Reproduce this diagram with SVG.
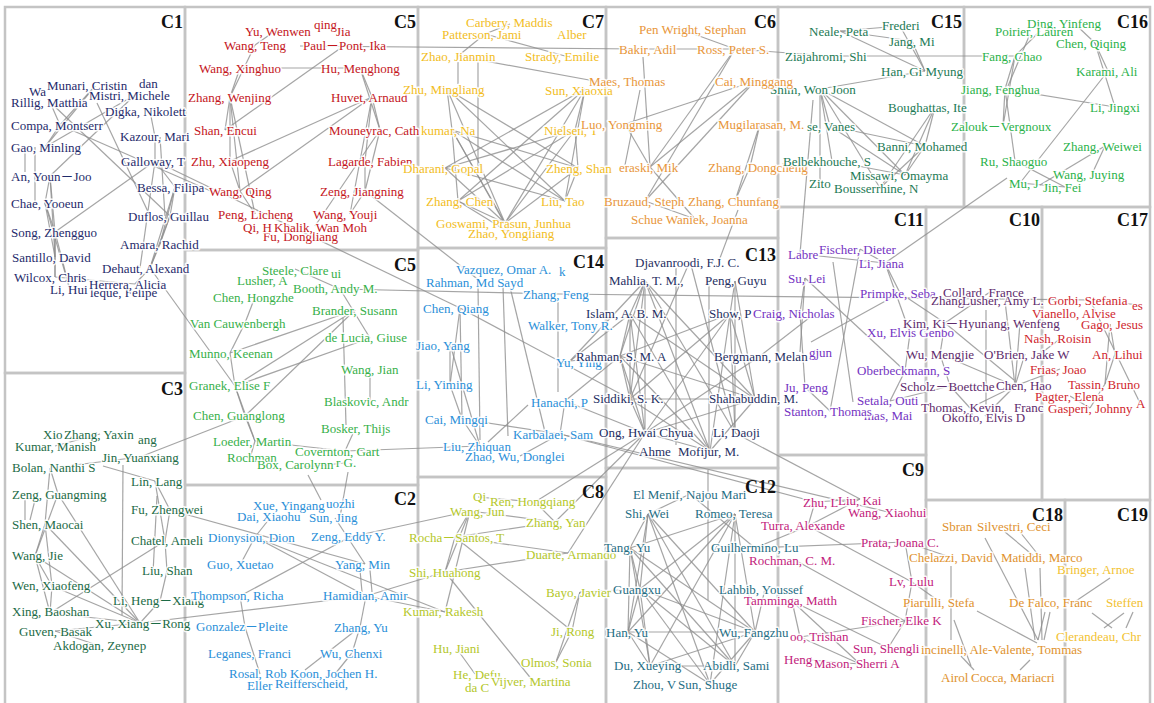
<svg xmlns="http://www.w3.org/2000/svg" width="1154" height="703" viewBox="0 0 1154 703">
<style>
text{font-family:"Liberation Serif","Times New Roman","Noto Sans CJK KR",serif;font-size:13px;paint-order:stroke;stroke:#fff;stroke-width:3px;stroke-linejoin:round;stroke-opacity:.9}
.lbl{font-weight:bold;font-size:18px;fill:#111;stroke:none;text-anchor:end}
.box rect{fill:none;stroke:#c4c4c4;stroke-width:2.5}
.e path{fill:none;stroke:#8f8f8f;stroke-width:1.2;stroke-opacity:.8}
.k1 text{fill:#1f2b6b}.k5 text{fill:#c4161c}.k7 text{fill:#f2bd1d}.k6 text{fill:#e8963a}
.k15 text{fill:#1d7a55}.k16 text{fill:#2bb24a}.k11 text{fill:#7433c2}.k10 text{fill:#5e2b6c}
.k17 text{fill:#cf1f2e}.k5g text{fill:#37b04a}.k14 text{fill:#2a8fd8}.k13 text{fill:#1f2f62}
.k3 text{fill:#1c6b46}.k2 text{fill:#2a8fd8}.k8 text{fill:#b4c72a}.k12 text{fill:#1f6e84}
.k9 text{fill:#c21c7c}.k18 text{fill:#e0922e}.k19 text{fill:#f2c232}
</style>
<rect width="1154" height="703" fill="#fff"/>
<g id="boxes" class="box">
<rect x="5" y="7" width="180" height="366"/>
<rect x="185" y="7" width="233" height="243"/>
<rect x="418" y="7" width="188" height="241"/>
<rect x="606" y="7" width="172" height="231"/>
<rect x="778" y="7" width="186" height="200"/>
<rect x="964" y="7" width="186" height="200"/>
<rect x="185" y="250" width="233" height="235"/>
<rect x="418" y="248" width="188" height="229"/>
<rect x="606" y="238" width="172" height="230"/>
<rect x="778" y="207" width="148" height="248"/>
<rect x="926" y="207" width="116" height="293"/>
<rect x="1042" y="207" width="108" height="293"/>
<rect x="5" y="373" width="180" height="335"/>
<rect x="185" y="485" width="233" height="223"/>
<rect x="418" y="477" width="188" height="231"/>
<rect x="606" y="468" width="172" height="240"/>
<rect x="778" y="455" width="148" height="253"/>
<rect x="926" y="500" width="139" height="208"/>
<rect x="1065" y="500" width="85" height="208"/>
</g>
<g id="connectors" class="e">
<path d="M25 150L25 172"/><path d="M50 176L45 203"/><path d="M50 176L55 232"/><path d="M45 203L55 232"/><path d="M35 147L35 203"/>
<path d="M50 176L55 257"/><path d="M45 203L55 257"/><path d="M55 232L55 257"/><path d="M55 232L55 277"/><path d="M60 125L45 147"/>
<path d="M50 102L60 125"/><path d="M50 102L170 216"/><path d="M95 86L60 125"/><path d="M95 86L45 147"/><path d="M135 95L45 147"/>
<path d="M135 95L50 176"/><path d="M150 111L155 137"/><path d="M155 137L155 161"/><path d="M155 161L175 187"/><path d="M155 161L55 232"/>
<path d="M175 187L170 216"/><path d="M175 187L160 244"/><path d="M170 216L160 244"/><path d="M170 216L150 268"/><path d="M160 244L150 268"/>
<path d="M150 268L135 284"/><path d="M175 187L150 268"/><path d="M155 161L140 268"/><path d="M45 203L70 290"/><path d="M55 232L70 290"/>
<path d="M55 257L55 277"/><path d="M55 277L135 284"/><path d="M60 125L213 192"/><path d="M155 161L460 308"/><path d="M150 268L235 386"/>
<path d="M97 103L150 216"/><path d="M160 137L165 216"/>
<path d="M240 68L230 97"/><path d="M230 97L225 130"/><path d="M230 97L230 161"/><path d="M255 45L275 31"/><path d="M255 45L230 97"/>
<path d="M240 68L360 68"/><path d="M360 68L372 97"/><path d="M360 68L380 130"/><path d="M372 97L365 161"/><path d="M372 97L380 130"/>
<path d="M380 130L365 191"/><path d="M365 161L365 191"/><path d="M365 191L350 214"/><path d="M255 214L240 191"/><path d="M240 191L230 161"/>
<path d="M230 161L372 97"/><path d="M345 45L225 130"/><path d="M230 97L255 214"/><path d="M230 97L240 191"/><path d="M372 97L240 191"/>
<path d="M350 214L372 97"/><path d="M315 226L380 130"/><path d="M365 191L480 281"/><path d="M300 46L640 49"/><path d="M640 49L735 49"/>
<path d="M735 49L830 56"/><path d="M830 56L1015 56"/>
<path d="M485 34L458 56"/><path d="M485 34L565 56"/><path d="M510 24L485 34"/><path d="M458 62L458 84"/><path d="M478 62L478 168"/>
<path d="M458 56L600 82"/><path d="M447 89L565 201"/><path d="M447 89L505 223"/><path d="M447 89L578 168"/><path d="M452 130L565 201"/>
<path d="M452 130L505 223"/><path d="M452 130L458 201"/><path d="M452 130L578 168"/><path d="M452 130L510 233"/><path d="M445 168L565 201"/>
<path d="M445 168L505 223"/><path d="M458 201L505 223"/><path d="M585 89L445 168"/><path d="M585 89L505 223"/><path d="M585 89L458 201"/>
<path d="M575 130L505 223"/><path d="M575 130L458 201"/><path d="M575 130L445 168"/><path d="M585 89L575 130"/><path d="M575 130L578 168"/>
<path d="M578 168L565 201"/><path d="M585 89L565 201"/><path d="M452 130L447 89"/><path d="M578 168L505 223"/><path d="M458 201L510 233"/>
<path d="M680 29L735 49"/><path d="M643 57L650 167"/><path d="M735 49L645 201"/><path d="M735 49L650 167"/><path d="M755 81L625 124"/>
<path d="M755 81L645 201"/><path d="M755 81L650 167"/><path d="M760 124L735 201"/><path d="M760 124L750 167"/><path d="M750 167L735 201"/>
<path d="M650 167L695 219"/><path d="M645 201L695 219"/><path d="M625 124L650 167"/><path d="M738 210L720 258"/><path d="M640 90L625 165"/>
<path d="M840 31L900 26"/><path d="M840 31L912 41"/><path d="M840 31L925 71"/><path d="M900 26L925 71"/><path d="M912 41L925 71"/>
<path d="M820 89L925 71"/><path d="M820 89L832 161"/><path d="M820 89L820 183"/><path d="M820 89L925 146"/><path d="M820 89L905 175"/>
<path d="M820 89L880 188"/><path d="M820 89L830 126"/><path d="M935 107L905 175"/><path d="M935 107L925 146"/><path d="M935 107L880 188"/>
<path d="M830 126L905 175"/><path d="M830 126L925 146"/><path d="M832 161L905 175"/><path d="M925 146L905 175"/><path d="M925 146L880 188"/>
<path d="M813 100L800 254"/>
<path d="M1040 31L1015 56"/><path d="M1030 34L1008 86"/><path d="M1015 56L1005 89"/><path d="M1015 56L1003 126"/><path d="M1005 89L1003 126"/>
<path d="M1005 89L1115 107"/><path d="M1005 89L1015 161"/><path d="M1095 43L1108 71"/><path d="M1095 43L1115 107"/><path d="M1075 24L1095 43"/>
<path d="M1108 71L1020 183"/><path d="M1105 146L1092 174"/><path d="M1105 146L1040 185"/><path d="M1015 161L1065 187"/><path d="M1020 183L1065 187"/>
<path d="M1007 178L885 263"/>
<path d="M860 249L885 263"/><path d="M800 254L885 263"/><path d="M805 278L800 313"/><path d="M805 278L800 352"/><path d="M800 313L805 387"/>
<path d="M805 387L830 411"/><path d="M833 262L853 402"/><path d="M860 249L830 411"/><path d="M885 263L910 333"/><path d="M900 293L885 263"/>
<path d="M900 293L945 323"/><path d="M811 342L900 293"/><path d="M905 371L890 401"/><path d="M950 386L890 401"/><path d="M910 333L905 371"/>
<path d="M760 356L809 318"/><path d="M805 278L905 371"/>
<path d="M945 323L1014 380"/><path d="M1025 354L1015 386"/><path d="M1020 323L1015 386"/><path d="M990 292L945 323"/><path d="M1005 301L1015 386"/>
<path d="M986 310L986 405"/><path d="M940 354L950 386"/><path d="M950 386L970 408"/><path d="M970 408L1015 386"/><path d="M985 416L1015 386"/>
<path d="M945 323L940 354"/><path d="M1060 339L1040 354"/><path d="M1060 369L1015 386"/><path d="M940 354L1015 386"/><path d="M560 294L1090 300"/>
<path d="M1090 300L1140 305"/><path d="M1110 324L1115 354"/><path d="M1115 354L1105 384"/><path d="M1110 324L1105 384"/><path d="M1090 300L1140 403"/>
<path d="M1070 396L1090 408"/><path d="M1105 384L1090 408"/>
<path d="M340 289L295 269"/><path d="M340 289L370 338"/><path d="M355 310L245 416"/><path d="M355 310L235 386"/><path d="M343 318L346 425"/>
<path d="M255 297L245 323"/><path d="M245 323L230 353"/><path d="M230 353L235 386"/><path d="M235 386L245 416"/><path d="M245 416L255 441"/>
<path d="M235 386L255 441"/><path d="M370 369L370 401"/><path d="M355 429L345 451"/><path d="M230 353L355 310"/><path d="M235 386L370 338"/>
<path d="M255 441L250 458"/><path d="M295 468L345 463"/><path d="M345 451L480 446"/><path d="M340 289L560 294"/><path d="M245 416L140 457"/>
<path d="M308 475L321 500"/><path d="M348 472L340 517"/><path d="M255 441L345 451"/>
<path d="M478 285L480 440"/><path d="M503 287L508 436"/><path d="M510 287L545 432"/><path d="M460 308L450 385"/><path d="M460 308L462 419"/>
<path d="M450 344L450 385"/><path d="M450 385L462 419"/><path d="M450 344L480 446"/><path d="M462 419L480 446"/><path d="M462 419L560 434"/>
<path d="M558 302L558 392"/><path d="M565 401L560 434"/><path d="M528 405L488 442"/><path d="M560 434L520 456"/><path d="M460 308L630 399"/>
<path d="M570 361L645 281"/><path d="M570 361L630 314"/><path d="M570 361L620 356"/><path d="M565 401L620 356"/><path d="M565 401L645 433"/>
<path d="M645 281L630 314"/><path d="M645 281L620 356"/><path d="M645 281L630 399"/><path d="M645 281L645 433"/><path d="M645 281L755 399"/>
<path d="M645 281L710 451"/><path d="M645 281L735 433"/><path d="M630 314L620 356"/><path d="M630 314L630 399"/><path d="M630 314L645 433"/>
<path d="M630 314L755 399"/><path d="M630 314L710 451"/><path d="M620 356L630 399"/><path d="M620 356L645 433"/><path d="M620 356L755 399"/>
<path d="M620 356L710 451"/><path d="M620 356L730 314"/><path d="M630 399L645 433"/><path d="M630 399L755 399"/><path d="M630 399L710 451"/>
<path d="M630 399L730 314"/><path d="M645 433L710 451"/><path d="M645 433L755 399"/><path d="M645 433L730 314"/><path d="M755 399L710 451"/>
<path d="M755 399L730 314"/><path d="M730 314L710 451"/><path d="M735 281L730 314"/><path d="M735 281L755 399"/><path d="M709 278L709 450"/>
<path d="M735 281L735 433"/><path d="M676 268L676 445"/><path d="M690 261L735 433"/><path d="M690 261L630 399"/><path d="M730 314L735 433"/>
<path d="M760 356L645 433"/><path d="M735 433L860 499"/><path d="M560 434L815 502"/><path d="M560 434L888 512"/>
<path d="M568 553L645 433"/><path d="M555 522L645 433"/><path d="M535 502L645 433"/>
<path d="M648 514L630 548"/><path d="M648 514L640 589"/><path d="M648 514L628 632"/><path d="M648 514L755 632"/><path d="M648 514L735 666"/>
<path d="M648 514L710 684"/><path d="M735 514L630 548"/><path d="M735 514L640 589"/><path d="M735 514L628 632"/><path d="M735 514L650 666"/>
<path d="M735 514L735 666"/><path d="M735 514L755 632"/><path d="M735 514L710 684"/><path d="M630 548L640 589"/><path d="M630 548L628 632"/>
<path d="M630 548L650 666"/><path d="M630 548L755 632"/><path d="M630 548L735 666"/><path d="M640 589L628 632"/><path d="M640 589L650 666"/>
<path d="M640 589L755 632"/><path d="M640 589L710 684"/><path d="M640 589L735 666"/><path d="M628 632L650 666"/><path d="M628 632L755 632"/>
<path d="M628 632L710 684"/><path d="M650 666L755 632"/><path d="M650 666L735 666"/><path d="M755 632L735 666"/><path d="M755 632L710 684"/>
<path d="M755 632L765 589"/><path d="M690 494L755 548"/><path d="M690 494L648 514"/><path d="M708 470L708 600"/>
<path d="M470 511L555 522"/><path d="M470 511L455 537"/><path d="M470 511L445 572"/><path d="M470 511L445 612"/><path d="M478 497L535 502"/>
<path d="M535 502L555 522"/><path d="M455 537L555 522"/><path d="M455 537L568 553"/><path d="M455 537L572 631"/><path d="M455 537L445 572"/>
<path d="M445 572L568 553"/><path d="M445 572L533 681"/><path d="M457 649L475 674"/><path d="M572 631L556 662"/><path d="M580 592L572 631"/>
<path d="M580 592L556 662"/><path d="M445 572L366 596"/><path d="M470 511L350 537"/><path d="M255 537L445 612"/><path d="M366 596L445 612"/>
<path d="M580 592L640 589"/>
<path d="M335 518L365 564"/><path d="M360 570L362 592"/><path d="M370 570L372 592"/><path d="M366 596L360 627"/><path d="M360 627L352 653"/>
<path d="M360 627L305 670"/><path d="M352 653L335 674"/><path d="M270 518L255 537"/><path d="M255 537L240 565"/><path d="M255 537L366 596"/>
<path d="M350 537L240 596"/><path d="M240 596L245 627"/><path d="M245 627L260 674"/><path d="M140 623L366 596"/><path d="M170 510L365 564"/>
<path d="M25 500L25 520"/><path d="M58 494L35 556"/><path d="M58 494L140 623"/><path d="M45 524L35 556"/><path d="M45 524L52 586"/>
<path d="M45 524L140 623"/><path d="M35 556L52 586"/><path d="M35 556L50 613"/><path d="M35 556L140 623"/><path d="M52 586L50 613"/>
<path d="M52 586L140 623"/><path d="M50 613L140 623"/><path d="M55 631L140 623"/><path d="M50 468L58 494"/><path d="M50 468L45 524"/>
<path d="M103 466L155 481"/><path d="M155 481L170 510"/><path d="M155 481L165 541"/><path d="M170 510L165 541"/><path d="M157 496L153 573"/>
<path d="M165 541L167 571"/><path d="M167 571L160 601"/><path d="M160 601L140 623"/><path d="M165 541L50 613"/><path d="M55 446L100 434"/>
<path d="M140 457L50 468"/><path d="M123 465L122 615"/><path d="M100 646L55 631"/><path d="M35 500L30 520"/>
<path d="M815 502L860 499"/><path d="M815 502L808 526"/><path d="M860 499L808 526"/><path d="M755 548L905 542"/><path d="M755 548L808 526"/>
<path d="M905 542L912 582"/><path d="M905 542L950 557"/><path d="M912 582L940 602"/><path d="M793 559L905 621"/><path d="M912 582L905 621"/>
<path d="M792 601L800 637"/><path d="M792 601L888 648"/><path d="M800 637L860 664"/><path d="M905 621L888 648"/><path d="M905 621L800 637"/>
<path d="M792 601L860 664"/><path d="M797 659L860 664"/><path d="M808 526L912 582"/>
<path d="M1005 532L1035 557"/><path d="M1020 532L1040 557"/><path d="M985 538L1038 640"/><path d="M1025 568L1035 640"/><path d="M1040 568L1042 640"/>
<path d="M1045 612L1038 640"/><path d="M1050 612L1044 640"/><path d="M951 566L951 640"/><path d="M977 611L1037 643"/><path d="M954 620L971 666"/>
<path d="M961 656L974 670"/><path d="M1030 660L1020 670"/><path d="M1110 578L1070 605"/><path d="M1092 613L1112 628"/><path d="M1124 613L1104 628"/>
<path d="M1133 612L1126 628"/>
</g>
<g id="C1" class="k1">
<g id="n-wa"><text x="29" y="96">Wa</text></g>
<g id="n-dan"><text x="139" y="88">dan</text></g>
<g id="n-munari"><text x="47" y="90">Munari, Cristin</text></g>
<g id="n-mistri"><text x="89" y="100">Mistri, Michele</text></g>
<g id="n-rillig"><text x="11" y="107">Rillig, Matthia</text></g>
<g id="n-digka"><text x="105" y="116">Digka, Nikolett</text></g>
<g id="n-compa"><text x="11" y="130">Compa, Montserr</text></g>
<g id="n-kazour"><text x="120" y="141">Kazour, Mari</text></g>
<g id="n-gao"><text x="11" y="152">Gao, Minling</text></g>
<g id="n-galloway"><text x="121" y="166">Galloway, T</text></g>
<g id="n-an"><text x="11" y="181">An, Youn－Joo</text></g>
<g id="n-bessa"><text x="137" y="192">Bessa, Filipa</text></g>
<g id="n-chae"><text x="11" y="208">Chae, Yooeun</text></g>
<g id="n-duflos"><text x="128" y="221">Duflos, Guillau</text></g>
<g id="n-song"><text x="11" y="237">Song, Zhengguo</text></g>
<g id="n-amara"><text x="120" y="249">Amara, Rachid</text></g>
<g id="n-santillo"><text x="12" y="262">Santillo, David</text></g>
<g id="n-dehaut"><text x="102" y="273">Dehaut, Alexand</text></g>
<g id="n-lihui"><text x="50" y="294">Li, Hui</text></g>
<g id="n-leque"><text x="90" y="297">leque, Felipe</text></g>
<g id="n-wilcox"><text x="14" y="282">Wilcox, Chris</text></g>
<g id="n-herrera"><text x="89" y="289">Herrera, Alicia</text></g>
</g>
<g id="C5a" class="k5">
<g id="n-xinqing"><text x="314" y="29">qing</text></g>
<g id="n-yuwen"><text x="245" y="36">Yu, Wenwen</text></g>
<g id="n-jia"><text x="336" y="36">Jia</text></g>
<g id="n-wangteng"><text x="224" y="50">Wang, Teng</text></g>
<g id="n-paulpont"><text x="303" y="50">Paul－Pont, Ika</text></g>
<g id="n-xinghuo"><text x="199" y="73">Wang, Xinghuo</text></g>
<g id="n-hum"><text x="321" y="73">Hu, Menghong</text></g>
<g id="n-wenjing"><text x="188" y="102">Zhang, Wenjing</text></g>
<g id="n-huvet"><text x="331" y="102">Huvet, Arnaud</text></g>
<g id="n-shan"><text x="194" y="135">Shan, Encui</text></g>
<g id="n-mouneyrac"><text x="329" y="135">Mouneyrac, Cath</text></g>
<g id="n-zhuxp"><text x="191" y="166">Zhu, Xiaopeng</text></g>
<g id="n-lagarde"><text x="328" y="166">Lagarde, Fabien</text></g>
<g id="n-wangqing"><text x="209" y="196">Wang, Qing</text></g>
<g id="n-zengj"><text x="320" y="196">Zeng, Jiangning</text></g>
<g id="n-peng"><text x="218" y="219">Peng, Licheng</text></g>
<g id="n-youji"><text x="313" y="219">Wang, Youji</text></g>
<g id="n-fu"><text x="263" y="241">Fu, Dongliang</text></g>
<g id="n-qi"><text x="243" y="232">Qi, H</text></g>
<g id="n-khalik"><text x="274" y="232">Khalik, Wan Moh</text></g>
</g>
<g id="C7" class="k7">
<g id="n-carbery"><text x="466" y="27">Carbery, Maddis</text></g>
<g id="n-patterson"><text x="442" y="39">Patterson, Jami</text></g>
<g id="n-alber"><text x="557" y="39">Alber</text></g>
<g id="n-zhaojm"><text x="421" y="61">Zhao, Jianmin</text></g>
<g id="n-strady"><text x="525" y="61">Strady, Emilie</text></g>
<g id="n-zhuml"><text x="403" y="94">Zhu, Mingliang</text></g>
<g id="n-sunxx"><text x="545" y="95">Sun, Xiaoxia</text></g>
<g id="n-kumar"><text x="421" y="135">kumar, Na</text></g>
<g id="n-nielsen"><text x="544" y="135">Nielsen, T</text></g>
<g id="n-dharani"><text x="403" y="173">Dharani, Gopal</text></g>
<g id="n-zhengs"><text x="546" y="173">Zheng, Shan</text></g>
<g id="n-zhangchen"><text x="426" y="206">Zhang, Chen</text></g>
<g id="n-liutao"><text x="541" y="206">Liu, Tao</text></g>
<g id="n-zhaoyl"><text x="468" y="238">Zhao, Yongliang</text></g>
<g id="n-goswami"><text x="436" y="228">Goswami, Prasun, Junhua</text></g>
</g>
<g id="C6" class="k6">
<g id="n-wright"><text x="639" y="34">Pen Wright, Stephan</text></g>
<g id="n-bakir"><text x="619" y="54">Bakir, Adil</text></g>
<g id="n-ross"><text x="697" y="54">Ross, Peter S.</text></g>
<g id="n-maes"><text x="589" y="86">Maes, Thomas</text></g>
<g id="n-luo"><text x="581" y="129">Luo, Yongming</text></g>
<g id="n-eraski"><text x="619" y="172">eraski, Mik</text></g>
<g id="n-zhangdc"><text x="708" y="172">Zhang, Dongcheng</text></g>
<g id="n-bruzaud"><text x="604" y="206">Bruzaud, Steph</text></g>
<g id="n-zhangcf"><text x="688" y="206">Zhang, Chunfang</text></g>
<g id="n-schue"><text x="631" y="224">Schue Waniek, Joanna</text></g>
</g>
<g id="C15" class="k15">
<g id="n-shim"><text x="770" y="94">Shim, Won Joon</text></g>
<g id="n-neale"><text x="809" y="36">Neale, Peta</text></g>
<g id="n-frederi"><text x="882" y="30">Frederi</text></g>
<g id="n-jang"><text x="889" y="46">Jang, Mi</text></g>
<g id="n-ziaj"><text x="785" y="61">Ziajahromi, Shi</text></g>
<g id="n-han"><text x="881" y="76">Han, Gi Myung</text></g>
<g id="n-bough"><text x="888" y="112">Boughattas, Ite</text></g>
<g id="n-vanes"><text x="807" y="131">se, Vanes</text></g>
<g id="n-banni"><text x="877" y="151">Banni, Mohamed</text></g>
<g id="n-belbek"><text x="783" y="166">Belbekhouche, S</text></g>
<g id="n-missawi"><text x="850" y="180">Missawi, Omayma</text></g>
<g id="n-zito"><text x="809" y="188">Zito</text></g>
<g id="n-bouss"><text x="834" y="193">Bousserrhine, N</text></g>
</g>
<g id="C6b" class="k6">
<g id="n-cai"><text x="715" y="86">Cai, Minggang</text></g>
<g id="n-mugi"><text x="718" y="129">Mugilarasan, M.</text></g>
</g>
<g id="C16" class="k16">
<g id="n-ding"><text x="1027" y="28">Ding, Yinfeng</text></g>
<g id="n-poirier"><text x="995" y="36">Poirier, Lauren</text></g>
<g id="n-chenqq"><text x="1056" y="48">Chen, Qiqing</text></g>
<g id="n-fang"><text x="982" y="61">Fang, Chao</text></g>
<g id="n-karami"><text x="1076" y="76">Karami, Ali</text></g>
<g id="n-jiang"><text x="961" y="94">Jiang, Fenghua</text></g>
<g id="n-lijx"><text x="1090" y="112">Li, Jingxi</text></g>
<g id="n-zalouk"><text x="951" y="131">Zalouk－Vergnoux</text></g>
<g id="n-zhangww"><text x="1063" y="151">Zhang, Weiwei</text></g>
<g id="n-ru"><text x="980" y="166">Ru, Shaoguo</text></g>
<g id="n-wangjy"><text x="1053" y="179">Wang, Juying</text></g>
<g id="n-mu"><text x="1009" y="188">Mu, J</text></g>
<g id="n-jin"><text x="1043" y="192">Jin, Fei</text></g>
</g>
<g id="C11" class="k11">
<g id="n-labre"><text x="788" y="259">Labre</text></g>
<g id="n-fischerd"><text x="819" y="254">Fischer, Dieter</text></g>
<g id="n-lijiana"><text x="859" y="268">Li, Jiana</text></g>
<g id="n-sulei"><text x="788" y="283">Su, Lei</text></g>
<g id="n-primpke"><text x="860" y="298">Primpke, Seba</text></g>
<g id="n-xuelvis"><text x="867" y="337">Xu, Elvis Genbo</text></g>
<g id="n-gjun"><text x="809" y="357">gjun</text></g>
<g id="n-oberb"><text x="857" y="375">Oberbeckmann, S</text></g>
<g id="n-jupeng"><text x="784" y="392">Ju, Peng</text></g>
<g id="n-setala"><text x="857" y="405">Setala, Outi</text></g>
<g id="n-mai"><text x="864" y="420">mas, Mai</text></g>
<g id="n-stanton"><text x="784" y="416">Stanton, Thomas</text></g>
</g>
<g id="C10" class="k10">
<g id="n-collard"><text x="943" y="297">Collard, France</text></g>
<g id="n-zhang10"><text x="931" y="305">Zhang</text></g>
<g id="n-lusher"><text x="962" y="305">Lusher, Amy L.</text></g>
<g id="n-yangwf"><text x="988" y="328">ang, Wenfeng</text></g>
<g id="n-kim"><text x="903" y="328">Kim, Ki－Hyun</text></g>
<g id="n-wumj"><text x="906" y="359">Wu, Mengjie</text></g>
<g id="n-obrien"><text x="984" y="359">O'Brien, Jake W</text></g>
<g id="n-scholz"><text x="900" y="391">Scholz－Boettche</text></g>
<g id="n-chenhao"><text x="996" y="390">Chen, Hao</text></g>
<g id="n-okoffo"><text x="942" y="422">Okoffo, Elvis D</text></g>
<g id="n-thomask"><text x="921" y="412">Thomas, Kevin,</text></g>
<g id="n-franc"><text x="1014" y="412">Franc</text></g>
</g>
<g id="C17" class="k17">
<g id="n-vianello"><text x="1032" y="318">Vianello, Alvise</text></g>
<g id="n-gorbi"><text x="1048" y="305">Gorbi, Stefania</text></g>
<g id="n-es"><text x="1132" y="310">es</text></g>
<g id="n-gago"><text x="1081" y="329">Gago, Jesus</text></g>
<g id="n-nash"><text x="1024" y="343">Nash, Roisin</text></g>
<g id="n-anlh"><text x="1092" y="359">An, Lihui</text></g>
<g id="n-frias"><text x="1030" y="374">Frias, Joao</text></g>
<g id="n-tassin"><text x="1068" y="389">Tassin, Bruno</text></g>
<g id="n-pagter"><text x="1035" y="401">Pagter, Elena</text></g>
<g id="n-a"><text x="1136" y="408">A</text></g>
<g id="n-gasperi"><text x="1048" y="413">Gasperi, Johnny</text></g>
</g>
<g id="C5b" class="k5g">
<g id="n-steele"><text x="262" y="275">Steele, Clare</text></g>
<g id="n-ui"><text x="331" y="278">ui</text></g>
<g id="n-lushera"><text x="237" y="285">Lusher, A</text></g>
<g id="n-booth"><text x="293" y="293">Booth, Andy M.</text></g>
<g id="n-chenhz"><text x="213" y="302">Chen, Hongzhe</text></g>
<g id="n-brander"><text x="312" y="315">Brander, Susann</text></g>
<g id="n-vanc"><text x="190" y="328">Van Cauwenbergh</text></g>
<g id="n-delucia"><text x="325" y="342">de Lucia, Giuse</text></g>
<g id="n-munno"><text x="189" y="358">Munno, Keenan</text></g>
<g id="n-wangjian"><text x="341" y="374">Wang, Jian</text></g>
<g id="n-granek"><text x="189" y="390">Granek, Elise F</text></g>
<g id="n-blask"><text x="324" y="406">Blaskovic, Andr</text></g>
<g id="n-chengl"><text x="193" y="420">Chen, Guanglong</text></g>
<g id="n-bosker"><text x="321" y="433">Bosker, Thijs</text></g>
<g id="n-loeder"><text x="213" y="446">Loeder, Martin</text></g>
<g id="n-covernton"><text x="295" y="456">Covernton, Gart</text></g>
<g id="n-rochman5"><text x="227" y="462">Rochman</text></g>
<g id="n-box"><text x="257" y="469">Box, Carolynn</text></g>
<g id="n-rg"><text x="336" y="467">r G.</text></g>
</g>
<g id="C14" class="k14">
<g id="n-vazquez"><text x="456" y="274">Vazquez, Omar A.</text></g>
<g id="n-k"><text x="559" y="276">k</text></g>
<g id="n-rahmanmd"><text x="426" y="287">Rahman, Md Sayd</text></g>
<g id="n-zhangfeng"><text x="523" y="299">Zhang, Feng</text></g>
<g id="n-chenqiang"><text x="423" y="313">Chen, Qiang</text></g>
<g id="n-walker"><text x="528" y="330">Walker, Tony R.</text></g>
<g id="n-jiao"><text x="416" y="350">Jiao, Yang</text></g>
<g id="n-yuying"><text x="556" y="367">Yu, Ying</text></g>
<g id="n-liyiming"><text x="416" y="389">Li, Yiming</text></g>
<g id="n-hanachi"><text x="531" y="407">Hanachi, P</text></g>
<g id="n-caimq"><text x="425" y="424">Cai, Mingqi</text></g>
<g id="n-karbalaei"><text x="513" y="439">Karbalaei, Sam</text></g>
<g id="n-liuzq"><text x="443" y="451">Liu, Zhiquan</text></g>
<g id="n-zhaowu"><text x="465" y="461">Zhao, Wu, Donglei</text></g>
</g>
<g id="C13" class="k13">
<g id="n-djav"><text x="635" y="267">Djavanroodi, F.J. C.</text></g>
<g id="n-mahlia"><text x="609" y="285">Mahlia, T. M.,</text></g>
<g id="n-pengguyu"><text x="705" y="285">Peng, Guyu</text></g>
<g id="n-islam"><text x="586" y="318">Islam, A. B. M.</text></g>
<g id="n-show"><text x="709" y="318">Show, P</text></g>
<g id="n-rahmansma"><text x="576" y="361">Rahman, S. M. A</text></g>
<g id="n-bergmann"><text x="714" y="361">Bergmann, Melan</text></g>
<g id="n-siddiki"><text x="593" y="403">Siddiki, S. K.</text></g>
<g id="n-shahab"><text x="709" y="403">Shahabuddin, M.</text></g>
<g id="n-ong"><text x="599" y="437">Ong, Hwai Chyua</text></g>
<g id="n-lidaoji"><text x="713" y="437">Li, Daoji</text></g>
<g id="n-ahme"><text x="639" y="456">Ahme</text></g>
<g id="n-mofijur"><text x="678" y="456">Mofijur, M.</text></g>
</g>
<g id="C11b" class="k11">
<g id="n-craig"><text x="753" y="318">Craig, Nicholas</text></g>
</g>
<g id="C3" class="k3">
<g id="n-xio"><text x="43" y="439">Xio</text></g>
<g id="n-ang"><text x="138" y="444">ang</text></g>
<g id="n-zhangyx"><text x="64" y="439">Zhang, Yaxin</text></g>
<g id="n-kumarm"><text x="15" y="451">Kumar, Manish</text></g>
<g id="n-jinyx"><text x="102" y="462">Jin, Yuanxiang</text></g>
<g id="n-bolan"><text x="12" y="472">Bolan, Nanthi S</text></g>
<g id="n-linlang"><text x="131" y="486">Lin, Lang</text></g>
<g id="n-zenggm"><text x="12" y="499">Zeng, Guangming</text></g>
<g id="n-fuzw"><text x="131" y="514">Fu, Zhengwei</text></g>
<g id="n-shen"><text x="12" y="529">Shen, Maocai</text></g>
<g id="n-chatel"><text x="131" y="545">Chatel, Ameli</text></g>
<g id="n-wangjie"><text x="12" y="560">Wang, Jie</text></g>
<g id="n-liushan"><text x="142" y="575">Liu, Shan</text></g>
<g id="n-wenxf"><text x="12" y="590">Wen, Xiaofeng</text></g>
<g id="n-liheng"><text x="113" y="605">Li, Heng－Xiang</text></g>
<g id="n-xing"><text x="12" y="616">Xing, Baoshan</text></g>
<g id="n-xuxr"><text x="95" y="628">Xu, Xiang－Rong</text></g>
<g id="n-guven"><text x="19" y="636">Guven, Basak</text></g>
<g id="n-akdogan"><text x="53" y="650">Akdogan, Zeynep</text></g>
</g>
<g id="C2" class="k2">
<g id="n-uozhi"><text x="326" y="508">uozhi</text></g>
<g id="n-xue"><text x="253" y="510">Xue, Yingang</text></g>
<g id="n-dai"><text x="237" y="521">Dai, Xiaohu</text></g>
<g id="n-sunjing"><text x="309" y="522">Sun, Jing</text></g>
<g id="n-diony"><text x="208" y="542">Dionysiou, Dion</text></g>
<g id="n-zengeddy"><text x="311" y="541">Zeng, Eddy Y.</text></g>
<g id="n-guo"><text x="207" y="569">Guo, Xuetao</text></g>
<g id="n-yangmin"><text x="335" y="569">Yang, Min</text></g>
<g id="n-thompson"><text x="191" y="600">Thompson, Richa</text></g>
<g id="n-hamidian"><text x="323" y="600">Hamidian, Amir</text></g>
<g id="n-gonzalez"><text x="196" y="631">Gonzalez－Pleite</text></g>
<g id="n-zhangyu"><text x="334" y="632">Zhang, Yu</text></g>
<g id="n-leganes"><text x="208" y="658">Leganes, Franci</text></g>
<g id="n-wuchenxi"><text x="320" y="658">Wu, Chenxi</text></g>
<g id="n-eller"><text x="247" y="690">Eller</text></g>
<g id="n-reiffer"><text x="275" y="688">Reifferscheid,</text></g>
<g id="n-rosal"><text x="229" y="678">Rosal, Rob</text></g>
<g id="n-koon"><text x="290" y="678">Koon, Jochen H.</text></g>
</g>
<g id="C8" class="k8">
<g id="n-qi8"><text x="473" y="501">Qi</text></g>
<g id="n-wangjun"><text x="450" y="516">Wang, Jun</text></g>
<g id="n-ren"><text x="490" y="506">Ren, Hongqiang</text></g>
<g id="n-zhangyan"><text x="526" y="527">Zhang, Yan</text></g>
<g id="n-rocha"><text x="409" y="542">Rocha－Santos, T</text></g>
<g id="n-duarte"><text x="526" y="559">Duarte, Armando</text></g>
<g id="n-shihh"><text x="409" y="577">Shi, Huahong</text></g>
<g id="n-kumarr"><text x="403" y="616">Kumar, Rakesh</text></g>
<g id="n-hujiani"><text x="433" y="653">Hu, Jiani</text></g>
<g id="n-hedefu"><text x="453" y="679">He, Defu</text></g>
<g id="n-dac"><text x="465" y="692">da C</text></g>
<g id="n-vijver"><text x="491" y="686">Vijver, Martina</text></g>
</g>
<g id="C12" class="k12">
<g id="n-elmenif"><text x="633" y="499">El Menif, Najou Mari</text></g>
<g id="n-shiwei"><text x="625" y="518">Shi, Wei</text></g>
<g id="n-romeo"><text x="695" y="518">Romeo, Teresa</text></g>
<g id="n-tangyu"><text x="604" y="552">Tang, Yu</text></g>
<g id="n-guilh"><text x="711" y="552">Guilhermino, Lu</text></g>
<g id="n-guangxu"><text x="613" y="594">Guangxu</text></g>
<g id="n-lahbib"><text x="719" y="594">Lahbib, Youssef</text></g>
<g id="n-hanyu"><text x="606" y="637">Han, Yu</text></g>
<g id="n-duxy"><text x="614" y="670">Du, Xueying</text></g>
<g id="n-abidli"><text x="703" y="670">Abidli, Sami</text></g>
<g id="n-zhouv"><text x="633" y="689">Zhou, V</text></g>
<g id="n-sunshuge"><text x="678" y="689">Sun, Shuge</text></g>
</g>
<g id="C8b" class="k8">
<g id="n-bayo"><text x="546" y="597">Bayo, Javier</text></g>
<g id="n-jirong"><text x="551" y="636">Ji, Rong</text></g>
<g id="n-olmos"><text x="521" y="667">Olmos, Sonia</text></g>
</g>
<g id="C9" class="k9">
<g id="n-zhul"><text x="803" y="507">Zhu, L</text></g>
<g id="n-liukai"><text x="838" y="505">Liu, Kai</text></g>
<g id="n-wangxh"><text x="848" y="517">Wang, Xiaohui</text></g>
<g id="n-turra"><text x="761" y="530">Turra, Alexande</text></g>
<g id="n-prata"><text x="861" y="547">Prata, Joana C.</text></g>
<g id="n-rochmancm"><text x="749" y="565">Rochman, C. M.</text></g>
<g id="n-lv"><text x="889" y="586">Lv, Lulu</text></g>
<g id="n-tamminga"><text x="744" y="605">Tamminga, Matth</text></g>
<g id="n-fischere"><text x="861" y="625">Fischer, Elke K</text></g>
<g id="n-trishan"><text x="790" y="641">oo, Trishan</text></g>
<g id="n-sunsl"><text x="853" y="653">Sun, Shengli</text></g>
<g id="n-heng"><text x="784" y="664">Heng</text></g>
<g id="n-mason"><text x="814" y="668">Mason, Sherri A</text></g>
</g>
<g id="C12b" class="k12">
<g id="n-wufz"><text x="719" y="637">Wu, Fangzhu</text></g>
</g>
<g id="C18" class="k18">
<g id="n-sbran"><text x="942" y="531">Sbran</text></g>
<g id="n-silvestri"><text x="977" y="531">Silvestri, Ceci</text></g>
<g id="n-chelazzi"><text x="909" y="562">Chelazzi, David</text></g>
<g id="n-matiddi"><text x="1001" y="562">Matiddi, Marco</text></g>
<g id="n-piarulli"><text x="903" y="607">Piarulli, Stefa</text></g>
<g id="n-defalco"><text x="1009" y="607">De Falco, Franc</text></g>
<g id="n-incinelli"><text x="921" y="654">incinelli, Ale</text></g>
<g id="n-valente"><text x="988" y="654">-Valente, Tommas</text></g>
<g id="n-airol"><text x="941" y="682">Airol</text></g>
<g id="n-cocca"><text x="971" y="682">Cocca, Mariacri</text></g>
</g>
<g id="C19" class="k19">
<g id="n-bringer"><text x="1057" y="574">Bringer, Arnoe</text></g>
<g id="n-steffen"><text x="1106" y="607">Steffen</text></g>
<g id="n-clerandeau"><text x="1056" y="641">Clerandeau, Chr</text></g>
</g>
<g id="labels">
<text class="lbl" x="183" y="28">C1</text>
<text class="lbl" x="416" y="28">C5</text>
<text class="lbl" x="604" y="28">C7</text>
<text class="lbl" x="776" y="28">C6</text>
<text class="lbl" x="962" y="28">C15</text>
<text class="lbl" x="1148" y="28">C16</text>
<text class="lbl" x="924" y="226">C11</text>
<text class="lbl" x="1040" y="226">C10</text>
<text class="lbl" x="1148" y="226">C17</text>
<text class="lbl" x="416" y="271">C5</text>
<text class="lbl" x="604" y="268">C14</text>
<text class="lbl" x="776" y="261">C13</text>
<text class="lbl" x="183" y="395">C3</text>
<text class="lbl" x="416" y="505">C2</text>
<text class="lbl" x="604" y="498">C8</text>
<text class="lbl" x="776" y="493">C12</text>
<text class="lbl" x="924" y="476">C9</text>
<text class="lbl" x="1063" y="521">C18</text>
<text class="lbl" x="1148" y="521">C19</text>
</g>
</svg>
